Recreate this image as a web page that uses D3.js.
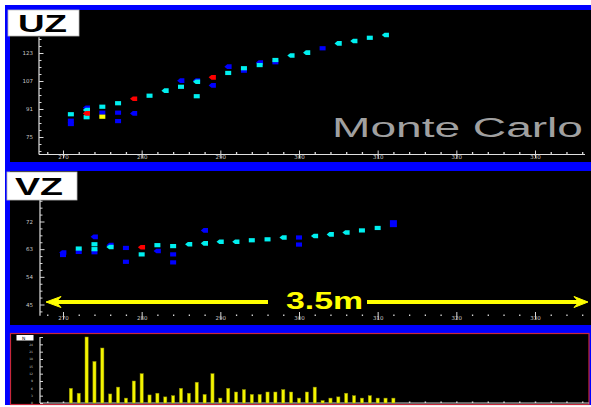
<!DOCTYPE html>
<html><head><meta charset="utf-8">
<script src="https://cdn.jsdelivr.net/npm/d3@7"></script>
<style>
html,body{margin:0;padding:0;background:#fff;}
svg{display:block;}
</style></head><body>
<svg id="chart" width="591" height="407"></svg>
<script>
// Scan steps shared by all three panels
const xTicks = [270, 280, 290, 300, 310, 320, 330];
const xTickLabels = ["270", "280", "290", "300", "310", "320", "330"];

// UZ panel: [step, value]
const uzTicks = [75, 91, 107, 123];
const uzBlueSquares = [[271,84.3],[271,82.4],[275,88.9],[277,88.9],[277,84.1],[293,112.9],[297,117.7],[303,125.7]];
const uzBlueArrows  = [[273,91.7],[279,88.5],[285,107.2],[287,107.3],[289,104.5],[291,115.2],[295,117.5]];
const uzCyanSquares = [[271,88.0],[273,86.3],[275,92.3],[277,94.3],[281,98.6],[285,103.7],[287,98.3],[291,111.6],[293,114.3],[295,116.1],[297,119.0],[309,131.7]];
const uzCyanArrows  = [[273,90.4],[283,101.5],[287,106.6],[299,121.6],[301,123.2],[305,128.5],[307,129.9],[311,133.3]];
const uzRedArrows   = [[273,88.5],[279,96.9],[289,109.1]];
const uzYellowSquares = [[275,86.6]];

// VZ panel: [step, value]
const vzTicks = [45, 54, 63, 72];
const vzBlueSquares = [[270,61.1],[272,62.1],[274,62.0],[278,63.4],[278,58.9],[284,61.3],[284,58.7],[300,66.8],[300,64.5]];
const vzBlueLarge   = [[312,71.3]];
const vzBlueArrows  = [[270,61.9],[274,67.0],[276,64.3],[282,62.4],[288,69.1]];
const vzCyanSquares = [[272,63.2],[274,64.6],[274,63.0],[280,61.3],[282,64.3],[284,64.0],[294,65.9],[296,66.2],[308,69.1],[310,69.9]];
const vzCyanArrows  = [[276,63.7],[286,64.6],[288,64.9],[290,65.4],[292,65.4],[298,66.8],[302,67.3],[304,67.8],[306,68.4]];
const vzRedArrows   = [[280,63.6]];

// Hit histogram
const histSteps  = [271,272,273,274,275,276,277,278,279,280,281,282,283,284,285,286,287,288,289,290,291,
                    292,293,294,295,296,297,298,299,300,301,302,303,304,305,306,307,308,309,310,311,312];
const histCounts = [6,4,27,17,22.5,3.7,6.5,2,9,12,3.3,4,2.5,3,6,4,8.5,3.5,12,2,6,
                    4.5,5.5,3.5,3.5,4.5,4.5,5.5,4.5,2,4.5,6.5,1,2,2.5,4,3,2,3,2,2,2];
const histTicks = [0, 3, 6, 9, 12, 15, 18, 21, 24, 27];

const COL = {blue: "#0000ff", cyan: "#00f0f0", red: "#ff0000", yellow: "#ffff00"};
const svg = d3.select("#chart");

// Frame and panel backgrounds
svg.append("rect").attr("width", 591).attr("height", 407).attr("fill", "#fff");
svg.append("rect").attr("x", 5).attr("y", 5).attr("width", 586).attr("height", 400).attr("fill", "#0000ff");
svg.append("rect").attr("x", 10).attr("y", 10).attr("width", 581).attr("height", 152).attr("fill", "#000");
svg.append("rect").attr("x", 10).attr("y", 171).attr("width", 581).attr("height", 154).attr("fill", "#000");
svg.append("rect").attr("x", 10.5).attr("y", 333.5).attr("width", 578.5).attr("height", 71)
  .attr("fill", "#000").attr("stroke", "#c8283c").attr("stroke-width", 1.2);

const x = d3.scaleLinear().domain([270, 330]).range([63, 535]);
const xMinor = d3.range(268, 337, 2).filter(v => v % 10 !== 0);

const yUZ = d3.scaleLinear().domain([75, 123]).range([137, 53]);
const yVZ = d3.scaleLinear().domain([45, 72]).range([304.5, 221.5]);
const yH  = d3.scaleLinear().domain([0, 27]).range([403, 337]);

function styleAxis(g, size) {
  g.attr("font-size", null).attr("font-family", null).attr("color", "#d8d8d8");
  g.selectAll(".domain").remove();
  g.selectAll("text").attr("fill", "#c8c8c8").style("font", size + "px 'DejaVu Sans'");
}

function leftAxis(yScale, xPos, major, minor, yMin, yMax, fontSize, pad) {
  const g = svg.append("g");
  g.append("line").attr("x1", xPos).attr("x2", xPos)
    .attr("y1", yScale(yMin)).attr("y2", yScale(yMax)).attr("stroke", "#e0e0e0").attr("stroke-width", 1.2);
  g.append("g").attr("transform", `translate(${xPos},0)`)
    .call(d3.axisLeft(yScale).tickValues(minor).tickSize(-2.5).tickFormat(""))
    .call(a => styleAxis(a, fontSize));
  g.append("g").attr("transform", `translate(${xPos},0)`)
    .call(d3.axisLeft(yScale).tickValues(major).tickSize(-4.5).tickPadding(pad).tickFormat(d3.format("d")))
    .call(a => styleAxis(a, fontSize));
}

function bottomAxis(yPos, withLine, minorLen, labelPad) {
  const g = svg.append("g");
  if (withLine) {
    g.append("line").attr("x1", 39).attr("x2", 585).attr("y1", yPos).attr("y2", yPos)
      .attr("stroke", "#e0e0e0").attr("stroke-width", 1.2);
  }
  g.append("g").attr("transform", `translate(0,${yPos})`)
    .call(d3.axisBottom(x).tickValues(xMinor).tickSize(-minorLen).tickFormat(""))
    .call(a => { styleAxis(a, 5.5); a.selectAll("line").attr("stroke-width", 1.3); });
  g.append("g").attr("transform", `translate(0,${yPos})`)
    .call(d3.axisBottom(x).tickValues(xTicks).tickSize(-4).tickFormat(""))
    .call(a => styleAxis(a, 5.5));
  g.append("g").attr("transform", `translate(0,${yPos})`)
    .call(d3.axisBottom(x).tickValues(xTicks).tickSize(3.5).tickPadding(labelPad)
      .tickFormat((d, i) => xTickLabels[i]))
    .call(a => styleAxis(a, 5.5));
}

function marks(data, yScale, shape, color, size) {
  const g = svg.append("g");
  if (shape === "square") {
    const w = size ? size : 6, h = size ? size : 4.2;
    g.selectAll("rect").data(data).join("rect")
      .attr("x", d => x(d[0]) - w / 2).attr("y", d => yScale(d[1]) - h / 2)
      .attr("width", w).attr("height", h).attr("fill", color);
  } else {
    // left-pointing arrow marker
    const p = "M-3.8,0L-1,-2.3L3.4,-2.3L3.4,2.3L-1,2.3Z";
    g.selectAll("path").data(data).join("path")
      .attr("d", p).attr("transform", d => `translate(${x(d[0])},${yScale(d[1])})`)
      .attr("fill", color);
  }
}

// ---------- UZ panel ----------
leftAxis(yUZ, 39, uzTicks, d3.range(67, 132, 4).filter(v => !uzTicks.includes(v)), 65, 132, 5.5, 6);
bottomAxis(154.5, true, 2.5, -2.5);

svg.append("text").attr("x", 332).attr("y", 137).attr("fill", "#a0a0a0")
  .attr("textLength", 251).attr("lengthAdjust", "spacingAndGlyphs")
  .style("font", "27px 'Liberation Sans', Arial, sans-serif").text("Monte Carlo");

marks(uzBlueSquares, yUZ, "square", COL.blue);
marks(uzBlueArrows, yUZ, "arrow", COL.blue);
marks(uzCyanSquares, yUZ, "square", COL.cyan);
marks(uzCyanArrows, yUZ, "arrow", COL.cyan);
marks(uzRedArrows, yUZ, "arrow", COL.red);
marks(uzYellowSquares, yUZ, "square", COL.yellow);

svg.append("rect").attr("x", 8).attr("y", 10).attr("width", 71).attr("height", 26)
  .attr("fill", "#fff").attr("stroke", "#bbb").attr("stroke-width", 0.8);
svg.append("text").attr("x", 18).attr("y", 32).attr("fill", "#000")
  .attr("textLength", 49).attr("lengthAdjust", "spacingAndGlyphs")
  .style("font", "bold 24px 'Liberation Sans', Arial, sans-serif").text("UZ");

// ---------- VZ panel ----------
leftAxis(yVZ, 40, vzTicks, d3.range(42.75, 80, 2.25).filter(v => !vzTicks.includes(v)), 41.3, 79.6, 5.5, 7);
bottomAxis(316, false, 1.5, -3);

marks(vzBlueSquares, yVZ, "square", COL.blue);
marks(vzBlueLarge, yVZ, "square", COL.blue, 7);
marks(vzBlueArrows, yVZ, "arrow", COL.blue);
marks(vzCyanSquares, yVZ, "square", COL.cyan);
marks(vzCyanArrows, yVZ, "arrow", COL.cyan);
marks(vzRedArrows, yVZ, "arrow", COL.red);

// 3.5 m span annotation
const ann = svg.append("g").attr("fill", COL.yellow).attr("stroke", COL.yellow);
ann.append("line").attr("x1", 54).attr("x2", 268).attr("y1", 302).attr("y2", 302).attr("stroke-width", 4);
ann.append("line").attr("x1", 367).attr("x2", 580).attr("y1", 302).attr("y2", 302).attr("stroke-width", 4);
ann.append("path").attr("d", "M46,302L61,296.5L56,302L61,307.5Z").attr("stroke-width", 1);
ann.append("path").attr("d", "M588,302L574,296.5L579,302L574,307.5Z").attr("stroke-width", 1);
svg.append("text").attr("x", 286).attr("y", 308.5).attr("fill", COL.yellow)
  .attr("textLength", 77).attr("lengthAdjust", "spacingAndGlyphs")
  .style("font", "bold 24px 'Liberation Sans', Arial, sans-serif").text("3.5m");

svg.append("rect").attr("x", 7).attr("y", 172).attr("width", 70).attr("height", 28)
  .attr("fill", "#fff").attr("stroke", "#bbb").attr("stroke-width", 0.8);
svg.append("text").attr("x", 15).attr("y", 195).attr("fill", "#000")
  .attr("textLength", 48).attr("lengthAdjust", "spacingAndGlyphs")
  .style("font", "bold 24px 'Liberation Sans', Arial, sans-serif").text("VZ");

// ---------- Histogram panel ----------
svg.append("line").attr("x1", 40).attr("x2", 589).attr("y1", 403).attr("y2", 403)
  .attr("stroke", "#d0d0d0").attr("stroke-width", 1.2);
svg.append("line").attr("x1", 40).attr("x2", 40).attr("y1", 337).attr("y2", 403)
  .attr("stroke", "#e0e0e0").attr("stroke-width", 1.2);
svg.append("g").attr("transform", "translate(40,0)")
  .call(d3.axisLeft(yH).tickValues(histTicks).tickSize(-3).tickPadding(7).tickFormat(d3.format("d")))
  .call(a => { styleAxis(a, 3); });
svg.append("g").attr("transform", "translate(0,403)")
  .call(d3.axisBottom(x).tickValues(xMinor.concat(xTicks)).tickSize(-1.5).tickFormat(""))
  .call(a => { styleAxis(a, 3); a.selectAll("line").attr("stroke-width", 1.5); });

svg.append("g").selectAll("rect").data(histSteps).join("rect")
  .attr("x", (d) => x(d) - 1.6).attr("width", 3.2)
  .attr("y", (d, i) => yH(histCounts[i])).attr("height", (d, i) => yH(0) - yH(histCounts[i]))
  .attr("fill", "#f4f400").attr("stroke", "#8a8a00").attr("stroke-width", 0.5);

svg.append("rect").attr("x", 16.5).attr("y", 335).attr("width", 17).attr("height", 5.5).attr("fill", "#fff");
svg.append("text").attr("x", 22).attr("y", 339.5).attr("fill", "#000")
  .style("font", "4.5px 'DejaVu Sans'").text("N");
</script>
</body></html>
